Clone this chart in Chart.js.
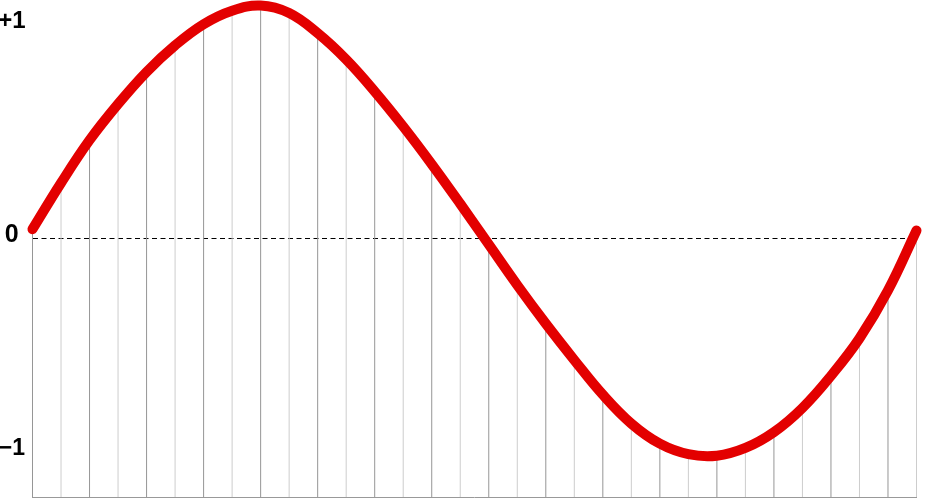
<!DOCTYPE html>
<html>
<head>
<meta charset="utf-8">
<script src="https://cdn.jsdelivr.net/npm/chart.js"></script>
<style>
  html, body { margin: 0; padding: 0; background: #fff; }
  #wrap { width: 925px; height: 498px; position: relative; }
</style>
</head>
<body>
<div id="wrap"><canvas id="sampleChart"></canvas></div>
<script>
// sample positions along the wave
const samples = [
  "0", "1", "2", "3", "4", "5", "6", "7", "8", "9", "10", "11", "12", "13", "14", "15",
  "16", "17", "18", "19", "20", "21", "22", "23", "24", "25", "26", "27", "28", "29", "30", "31",
];
// value of the curve at each sample
const waveValues = [
  0.041, 0.257, 0.457, 0.626, 0.776, 0.900, 0.999, 1.062,
  1.086, 1.051, 0.957, 0.834, 0.685, 0.521, 0.345, 0.160,
  -0.030, -0.220, -0.400, -0.570, -0.732, -0.867, -0.961, -1.010,
  -1.017, -0.981, -0.907, -0.794, -0.644, -0.469, -0.245, 0.035,
];
const tickValues = [1, 0, -1];
const tickLabels = ["+1", "0", "\u22121"];
const yMin = -1.21;
const yMax = 1.112;

const labelFamily = "'Liberation Sans', Arial, sans-serif";
const tickFonts = {
  "1": { family: labelFamily, size: 24, weight: "bold" },
  "0": { family: labelFamily, size: 25, weight: "bold" },
  "-1": { family: labelFamily, size: 23, weight: "bold" },
};

const ctx = document.getElementById("sampleChart").getContext("2d");
const chart = new Chart(ctx, {
  type: "bar",
  data: {
    labels: samples,
    datasets: [
      {
        type: "line",
        data: waveValues,
        borderColor: "#e30000",
        borderWidth: 10,
        borderCapStyle: "round",
        borderJoinStyle: "round",
        tension: 0.4,
        pointRadius: 0,
        fill: false,
        clip: false,
        order: 0,
      },
      {
        type: "bar",
        data: waveValues.map((v) => [yMin, v]),
        backgroundColor: (c) => (c.dataIndex % 2 ? "#cdcdcd" : "#969696"),
        borderWidth: 0,
        barThickness: 1,
        inflateAmount: 0,
        clip: false,
        order: 1,
      },
    ],
  },
  options: {
    responsive: true,
    maintainAspectRatio: false,
    animation: false,
    devicePixelRatio: 1,
    layout: { padding: { left: 0, right: 8.5, top: 0, bottom: 1 } },
    plugins: { legend: { display: false }, tooltip: { enabled: false } },
    scales: {
      x: {
        type: "category",
        offset: false,
        grid: { display: false, drawTicks: false, offset: false },
        ticks: { display: false },
        border: { display: true, color: "#999999", width: 1 },
        afterFit: (scale) => {
          scale.height = 0;
          scale.paddingLeft = 0;
          scale.paddingRight = 0;
        },
      },
      y: {
        min: yMin,
        max: yMax,
        afterBuildTicks: (scale) => {
          scale.ticks = tickValues.map((v) => ({ value: v }));
        },
        afterFit: (scale) => {
          scale.width = 32.5;
          scale.paddingTop = 0;
          scale.paddingBottom = 0;
        },
        grid: {
          drawTicks: false,
          color: (c) => (c.tick && c.tick.value === 0 ? "#000000" : "rgba(0,0,0,0)"),
          lineWidth: 1,
        },
        border: { display: false, dash: [5, 3.5] },
        ticks: {
          padding: 7,
          crossAlign: "center",
          labelOffset: -3,
          color: "#000000",
          font: (c) => tickFonts[String(c.tick ? c.tick.value : 0)],
          callback: (value) => tickLabels[tickValues.indexOf(value)],
        },
      },
    },
  },
});
</script>
</body>
</html>
